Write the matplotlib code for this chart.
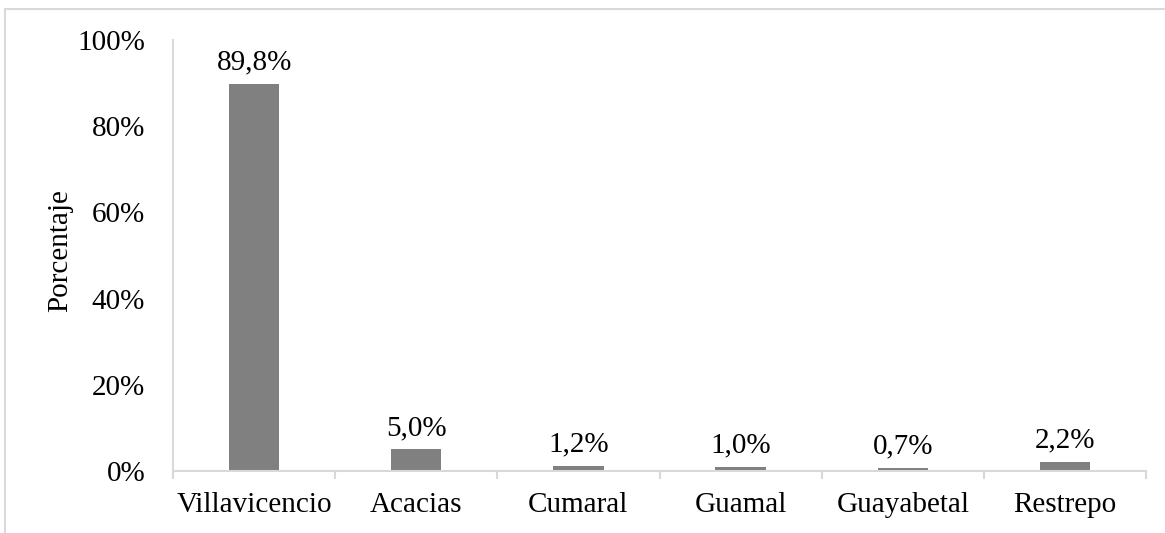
import matplotlib
matplotlib.use("Agg")
import matplotlib.pyplot as plt
from matplotlib.lines import Line2D
import numpy as np

# Data
municipios = ["Villavicencio", "Acacias", "Cumaral", "Guamal", "Guayabetal", "Restrepo"]
porcentajes = [89.8, 5.0, 1.2, 1.0, 0.7, 2.2]
y_ticks = [0, 20, 40, 60, 80, 100]

plt.rcParams["font.family"] = ["Liberation Serif", "DejaVu Serif"]
plt.rcParams["font.size"] = 21

fig = plt.figure(figsize=(11.65, 5.33), dpi=100)
ax = fig.add_axes([0.1485, 0.1163, 0.8352, 0.8087])

x = np.arange(len(municipios))
bars = ax.bar(x, porcentajes, width=0.31, color="#808080")

for b, v in zip(bars, porcentajes):
    ax.annotate(f"{v:.1f}%".replace(".", ","), (b.get_x() + b.get_width() / 2, v),
                xytext=(0, 6), textcoords="offset points",
                ha="center", va="bottom", fontsize=21)

ax.set_xlim(-0.5, len(municipios) - 0.5)
ax.set_ylim(0, 100)
ax.set_yticks(y_ticks)
ax.set_yticklabels([f"{t}%" for t in y_ticks])
ax.set_xticks(x)
ax.set_xticklabels(municipios)
ax.set_xticks(np.arange(-0.5, len(municipios)), minor=True)

ax.tick_params(axis="y", length=0, pad=20)
ax.tick_params(axis="x", which="major", length=0, pad=15)
ax.tick_params(axis="x", which="minor", length=6, width=1.5, color="#d9d9d9", direction="out")

for s in ["top", "right"]:
    ax.spines[s].set_visible(False)
for s in ["left", "bottom"]:
    ax.spines[s].set_color("#d9d9d9")
    ax.spines[s].set_linewidth(1.5)

fig.text(60 / 1165, 0.53, "Porcentaje", rotation=90, ha="center", va="center", fontsize=21)

# chart frame (top and left edges visible)
fig.add_artist(Line2D([5 / 1165, 5 / 1165], [0, 1 - 9 / 533], color="#d9d9d9", lw=1.5,
                      transform=fig.transFigure))
fig.add_artist(Line2D([5 / 1165, 1], [1 - 9 / 533, 1 - 9 / 533], color="#d9d9d9", lw=1.5,
                      transform=fig.transFigure))

fig.savefig("out.png", dpi=100)
